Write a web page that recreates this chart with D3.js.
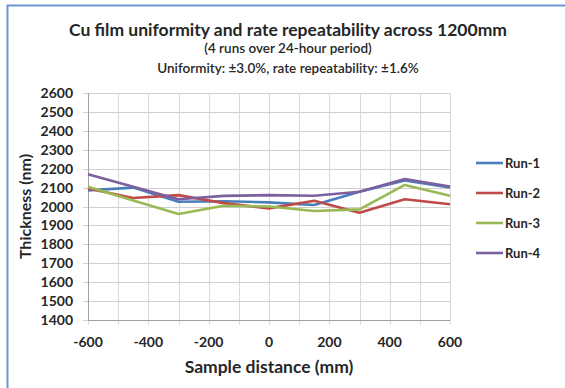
<!DOCTYPE html>
<html>
<head>
<meta charset="utf-8">
<script src="https://cdn.jsdelivr.net/npm/d3@7"></script>
<style>
  body { margin: 0; background: #fff; }
  text { font-family: Lato, "Open Sans", sans-serif; font-weight: bold; fill: #262626; }
</style>
</head>
<body>
<svg id="chart" width="565" height="388"></svg>
<script>
// sample positions along the 1200mm substrate
var positions = [-600, -450, -300, -150, 0, 150, 300, 450, 600];

var run1 = [2085, 2100, 2025, 2028, 2022, 2008, 2078, 2138, 2100];
var run2 = [2095, 2045, 2060, 2018, 1990, 2030, 1967, 2038, 2012];
var run3 = [2105, 2032, 1960, 2004, 2000, 1976, 1985, 2114, 2057];
var run4 = [2170, 2105, 2038, 2056, 2060, 2057, 2078, 2145, 2105];

var seriesNames = ['Run-1', 'Run-2', 'Run-3', 'Run-4'];
var seriesColors = ['#4a7ebb', '#be4b48', '#98b954', '#7d60a0'];

var xTicks = [-600, -400, -200, 0, 200, 400, 600];
var yTicks = [1400, 1500, 1600, 1700, 1800, 1900, 2000, 2100, 2200, 2300, 2400, 2500, 2600];

var titleLines = [
  'Cu film uniformity and rate repeatability across 1200mm',
  '(4 runs over 24-hour period)',
  'Uniformity: \u00b13.0%, rate repeatability: \u00b11.6%'
];

var plot = { left: 88, right: 450, top: 93, bottom: 320 };

var svg = d3.select('#chart');

// outer chart frame (only top and left edges show in the window)
svg.append('rect')
  .attr('x', 7.5).attr('y', 5.5)
  .attr('width', 600).attr('height', 420)
  .attr('fill', 'none')
  .attr('stroke', '#6a95cf')
  .attr('stroke-width', 2);

var x = d3.scaleLinear().domain([-600, 600]).range([plot.left, plot.right]);
var y = d3.scaleLinear().domain([1400, 2600]).range([plot.bottom, plot.top]);

// gridlines
var gridX = d3.range(-600, 601, 100);
svg.append('g').selectAll('line').data(gridX).enter().append('line')
  .attr('x1', d => Math.round(x(d)) + 0.5).attr('x2', d => Math.round(x(d)) + 0.5)
  .attr('y1', plot.top).attr('y2', plot.bottom + 5)
  .attr('stroke', '#d9d9d9').attr('stroke-width', 1);

svg.append('g').selectAll('line').data(yTicks).enter().append('line')
  .attr('x1', plot.left - 5).attr('x2', plot.right)
  .attr('y1', d => Math.round(y(d)) + 0.5).attr('y2', d => Math.round(y(d)) + 0.5)
  .attr('stroke', '#d0d0d0').attr('stroke-width', 1);

// axis lines
svg.append('line')
  .attr('x1', plot.left + 0.5).attr('x2', plot.left + 0.5)
  .attr('y1', plot.top).attr('y2', plot.bottom)
  .attr('stroke', '#a0a0a0');
svg.append('line')
  .attr('x1', plot.left).attr('x2', plot.right)
  .attr('y1', plot.bottom + 0.5).attr('y2', plot.bottom + 0.5)
  .attr('stroke', '#a0a0a0');

// tick labels
svg.append('g').selectAll('text').data(yTicks).enter().append('text')
  .attr('x', 73).attr('y', d => y(d))
  .attr('dy', '0.36em')
  .attr('text-anchor', 'end')
  .style('font-size', '14px')
  .text(d => d);

svg.append('g').selectAll('text').data(xTicks).enter().append('text')
  .attr('x', d => x(d)).attr('y', 347)
  .attr('text-anchor', 'middle')
  .style('font-size', '14px')
  .text(d => d);

// axis titles
svg.append('text')
  .attr('x', 269).attr('y', 373)
  .attr('text-anchor', 'middle')
  .style('font-size', '17.5px')
  .text('Sample distance (mm)');

svg.append('text')
  .attr('transform', 'translate(31,' + ((plot.top + plot.bottom) / 2) + ') rotate(-90)')
  .attr('text-anchor', 'middle')
  .style('font-size', '16px')
  .text('Thickness (nm)');

// titles
svg.append('text').attr('x', 288).attr('y', 36)
  .attr('text-anchor', 'middle').style('font-size', '17.5px')
  .text(titleLines[0]);
svg.append('text').attr('x', 288).attr('y', 52.5)
  .attr('text-anchor', 'middle').style('font-size', '13.5px')
  .style('font-weight', 600)
  .text(titleLines[1]);
svg.append('text').attr('x', 288).attr('y', 72.5)
  .attr('text-anchor', 'middle').style('font-size', '13.5px')
  .style('font-weight', 600)
  .text(titleLines[2]);

// series lines
var runs = [run1, run2, run3, run4];
var line = d3.line()
  .x((d, i) => x(positions[i]))
  .y(d => y(d));

svg.append('g').selectAll('path').data(runs).enter().append('path')
  .attr('d', d => line(d))
  .attr('fill', 'none')
  .attr('stroke', (d, i) => seriesColors[i])
  .attr('stroke-width', 2.6)
  .attr('stroke-linejoin', 'round');

// legend
var legend = svg.append('g').selectAll('g').data(seriesNames).enter().append('g')
  .attr('transform', (d, i) => 'translate(476,' + (163 + i * 30) + ')');
legend.append('line')
  .attr('x1', 0).attr('x2', 27)
  .attr('stroke', (d, i) => seriesColors[i])
  .attr('stroke-width', 2.6);
legend.append('text')
  .attr('x', 29).attr('dy', '0.36em')
  .style('font-size', '13px')
  .text(d => d);
</script>
</body>
</html>
